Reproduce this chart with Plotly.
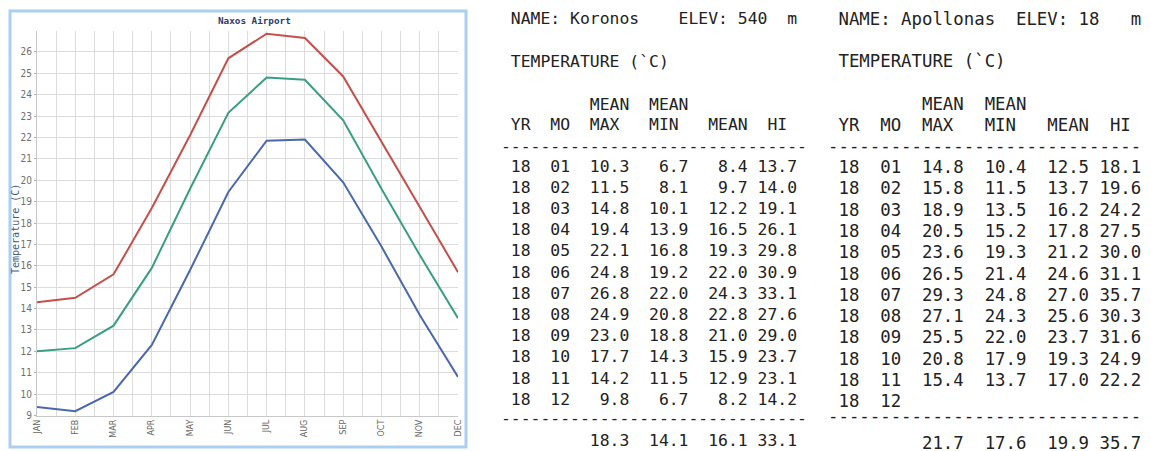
import plotly.graph_objects as go

# Page body has an 8px default margin, so the figure is drawn 8px in/down.
OFF = 8
W, H = 1151 - OFF, 451 - OFF

# ---- chart data (Naxos Airport) ----
months = ["JAN", "FEB", "MAR", "APR", "MAY", "JUN", "JUL", "AUG", "SEP", "OCT", "NOV", "DEC"]
naxos_max = [14.3, 14.5, 15.6, 18.7, 22.1, 25.7, 26.85, 26.65, 24.85, 21.8, 18.8, 15.7]
naxos_mean = [12.0, 12.15, 13.2, 15.9, 19.6, 23.15, 24.8, 24.7, 22.8, 19.6, 16.5, 13.55]
naxos_min = [9.4, 9.2, 10.1, 12.3, 15.8, 19.45, 21.85, 21.9, 19.9, 16.9, 13.7, 10.8]
y_ticks = list(range(9, 27))

# ---- table data ----
mo_labels = ["01", "02", "03", "04", "05", "06", "07", "08", "09", "10", "11", "12"]
kor_max = [10.3, 11.5, 14.8, 19.4, 22.1, 24.8, 26.8, 24.9, 23.0, 17.7, 14.2, 9.8]
kor_min = [6.7, 8.1, 10.1, 13.9, 16.8, 19.2, 22.0, 20.8, 18.8, 14.3, 11.5, 6.7]
kor_mean = [8.4, 9.7, 12.2, 16.5, 19.3, 22.0, 24.3, 22.8, 21.0, 15.9, 12.9, 8.2]
kor_hi = [13.7, 14.0, 19.1, 26.1, 29.8, 30.9, 33.1, 27.6, 29.0, 23.7, 23.1, 14.2]
kor_totals = [18.3, 14.1, 16.1, 33.1]

apo_max = [14.8, 15.8, 18.9, 20.5, 23.6, 26.5, 29.3, 27.1, 25.5, 20.8, 15.4, None]
apo_min = [10.4, 11.5, 13.5, 15.2, 19.3, 21.4, 24.8, 24.3, 22.0, 17.9, 13.7, None]
apo_mean = [12.5, 13.7, 16.2, 17.8, 21.2, 24.6, 27.0, 25.6, 23.7, 19.3, 17.0, None]
apo_hi = [18.1, 19.6, 24.2, 27.5, 30.0, 31.1, 35.7, 30.3, 31.6, 24.9, 22.2, None]
apo_totals = [21.7, 17.6, 19.9, 35.7]


def px(x):
    return (x - OFF) / W


def py(y):
    return 1 - (y - OFF) / H


fig = go.Figure()
x_idx = list(range(len(months)))
for vals, col in [(naxos_max, "#c4504c"), (naxos_mean, "#3a9e84"), (naxos_min, "#4a68ae")]:
    fig.add_trace(go.Scatter(x=x_idx, y=vals, mode="lines",
                             line=dict(color=col, width=2), hoverinfo="skip",
                             showlegend=False))

fig.update_layout(
    width=W, height=H,
    margin=dict(l=0, r=0, t=0, b=0),
    paper_bgcolor="white", plot_bgcolor="white",
    showlegend=False,
)
fig.update_xaxes(
    domain=[px(37), px(458)], range=[0, 11], automargin=False,
    tickmode="array", tickvals=x_idx, ticktext=months, tickangle=-90,
    tickfont=dict(family="DejaVu Sans", size=8, color="#666666"),
    showgrid=True, gridcolor="#dcdcdc", gridwidth=1,
    minor=dict(dtick=0.5, tick0=0, showgrid=True, gridcolor="#dcdcdc", gridwidth=1),
    showline=True, linecolor="#c8c8c8", linewidth=1, zeroline=False, ticks="",
)
fig.update_yaxes(
    domain=[py(415.5), py(30.5)], range=[9, 27], automargin=False,
    tickmode="array", tickvals=y_ticks,
    tickfont=dict(family="Liberation Sans Narrow, DejaVu Sans Condensed, Arial Narrow, sans-serif",
                  size=10, color="#707070"),
    showgrid=True, gridcolor="#dcdcdc", gridwidth=1,
    showline=True, linecolor="#c8c8c8", linewidth=1, zeroline=False,
    ticks="outside", ticklen=2, tickcolor="#b0b0b0",
)

# chart frame
fig.add_shape(type="rect", xref="paper", yref="paper",
              x0=px(10), x1=px(466), y0=py(447), y1=py(11),
              line=dict(color="#aacff1", width=3), layer="above")

annots = []
annots.append(dict(text="<b>Naxos Airport</b>", x=px(254), y=py(20.5),
                   xref="paper", yref="paper", showarrow=False,
                   xanchor="center", yanchor="middle",
                   font=dict(family="DejaVu Sans Mono", size=9.3, color="#2b3c6e")))
annots.append(dict(text="Temperature (C)", x=px(15), y=py(229), textangle=-90,
                   xref="paper", yref="paper", showarrow=False,
                   xanchor="center", yanchor="middle",
                   font=dict(family="DejaVu Sans Mono", size=10, color="#4a5a78")))


def fmt(v):
    return "    " if v is None else "%4.1f" % v


def block_lines(elev_line, mx, mn, me, hi, totals):
    lines = [elev_line,
             " TEMPERATURE (`C)",
             "         MEAN  MEAN",
             " YR  MO  MAX   MIN   MEAN  HI",
             "-" * 31]
    for i, mo in enumerate(mo_labels):
        if mx[i] is None:
            lines.append(" 18  %s" % mo)
        else:
            lines.append(" 18  %s  %s  %s  %s %s" % (mo, fmt(mx[i]), fmt(mn[i]), fmt(me[i]), fmt(hi[i])))
    lines.append("-" * 31)
    lines.append("         %s  %s  %s %s" % tuple(fmt(t) for t in totals))
    return lines


def add_block(lines, x0, ys, size):
    for txt, yy in zip(lines, ys):
        annots.append(dict(text=txt.replace(" ", "\u00a0"), x=px(x0), y=py(yy),
                           xref="paper", yref="paper", showarrow=False,
                           xanchor="left", yanchor="middle", borderpad=0,
                           font=dict(family="DejaVu Sans Mono", size=size, color="#222222")))


left_lines = block_lines(" NAME: Koronos    ELEV: 540  m",
                         kor_max, kor_min, kor_mean, kor_hi, kor_totals)
left_ys = [19, 61, 104, 124.5, 146] + [166 + 21.2 * i for i in range(12)] + [418, 440]
add_block(left_lines, 500, left_ys, 16.4)

right_lines = block_lines(" NAME: Apollonas  ELEV: 18   m",
                          apo_max, apo_min, apo_mean, apo_hi, apo_totals)
right_ys = [19, 61, 104, 125, 146] + [167 + 21.3 * i for i in range(12)] + [416, 443]
add_block(right_lines, 826.5, right_ys, 17.35)

fig.update_layout(annotations=annots)
fig.write_html("out.html")
